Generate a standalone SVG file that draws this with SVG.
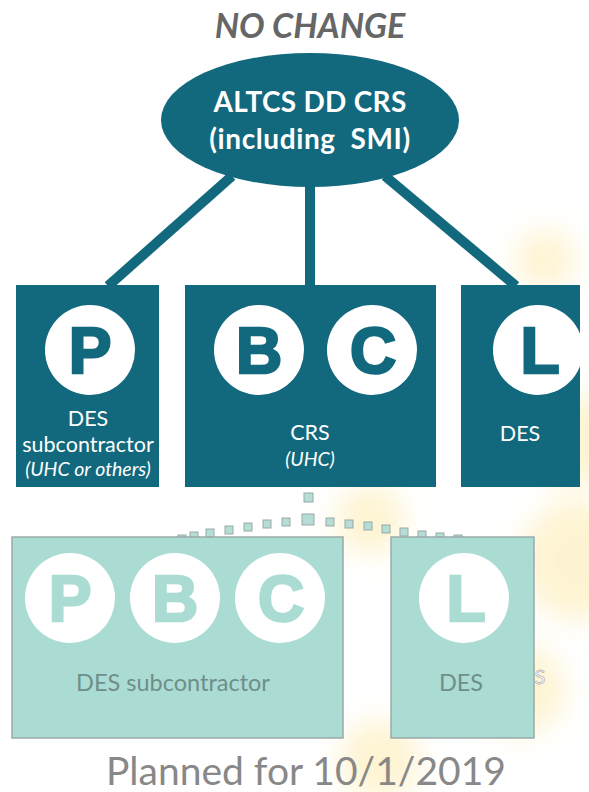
<svg xmlns="http://www.w3.org/2000/svg" width="589" height="792" viewBox="0 0 589 792">
<defs>
<filter id="blur" x="-50%" y="-50%" width="200%" height="200%"><feGaussianBlur stdDeviation="14"/></filter>
<style>
.teal{fill:#12697e}
.conn{stroke:#12697e;stroke-width:10;fill:none}
.circ{fill:#ffffff}
.let{font-family:"Liberation Sans",Arial,sans-serif;font-weight:bold;font-size:64px;fill:#12697e;stroke:#12697e;stroke-width:2.5;text-anchor:middle}
.lbl{font-family:Lato,"Open Sans",sans-serif;font-size:21.5px;fill:#ffffff;text-anchor:middle}
.ital{font-family:Lato,"Open Sans",sans-serif;font-style:italic;font-size:19.5px;fill:#ffffff;text-anchor:middle}
.fbox{fill:#aadcd3;stroke:#9aaaa8;stroke-width:1.5}
.flet{font-family:"Liberation Sans",Arial,sans-serif;font-weight:bold;font-size:64px;fill:#aadcd3;stroke:#aadcd3;stroke-width:2.5;text-anchor:middle}
.flbl{font-family:Lato,"Open Sans",sans-serif;font-size:23.5px;fill:#6f8e8a;text-anchor:middle}
.dot{fill:#b5ddd6;stroke:#9aa9a7;stroke-width:1}
.blob{fill:#fde9a6;opacity:0.5;filter:url(#blur)}
</style>
</defs>
<rect width="589" height="792" fill="#ffffff"/>
<g id="background">
<circle class="blob" cx="580" cy="560" r="60"/>
<circle class="blob" cx="575" cy="440" r="45"/>
<circle class="blob" cx="545" cy="260" r="30"/>
<circle class="blob" cx="520" cy="690" r="45"/>
<circle class="blob" cx="370" cy="520" r="35"/>
<circle class="blob" cx="380" cy="760" r="40"/>
</g>
<text x="310" y="38" font-family="Lato,'Open Sans',sans-serif" font-weight="bold" font-style="italic" font-size="34" fill="#666666" text-anchor="middle">NO CHANGE</text>
<g id="connectors">
<line class="conn" x1="232" y1="176" x2="108" y2="286"/>
<line class="conn" x1="310" y1="185" x2="310" y2="286"/>
<line class="conn" x1="385" y1="176" x2="516" y2="286"/>
</g>
<g id="root">
<ellipse class="teal" cx="310" cy="120" rx="149" ry="67"/>
<text x="310" y="112" font-family="Lato,'Open Sans',sans-serif" font-weight="bold" font-size="28" fill="#ffffff" text-anchor="middle" letter-spacing="0.3">ALTCS DD CRS</text>
<text x="310" y="149" font-family="Lato,'Open Sans',sans-serif" font-weight="bold" font-size="28" fill="#ffffff" text-anchor="middle" letter-spacing="0.6" xml:space="preserve">(including  SMI)</text>
</g>
<g id="node-p">
<rect class="teal" x="16" y="285" width="143" height="202"/>
<circle class="circ" cx="90" cy="350" r="45"/>
<text class="let" x="90" y="373">P</text>
<text class="lbl" x="88" y="426">DES</text>
<text class="lbl" x="88" y="452">subcontractor</text>
<text class="ital" x="88" y="476">(UHC or others)</text>
</g>
<g id="node-crs">
<rect class="teal" x="185" y="285" width="251" height="202"/>
<circle class="circ" cx="259" cy="350" r="45"/>
<text class="let" x="259" y="373">B</text>
<circle class="circ" cx="372" cy="350" r="45"/>
<text class="let" x="373" y="373">C</text>
<text class="lbl" x="310" y="440">CRS</text>
<text class="ital" x="310" y="466">(UHC)</text>
</g>
<g id="node-des">
<rect class="teal" x="461" y="285" width="119" height="202"/>
<circle class="circ" cx="538" cy="350" r="45"/>
<text class="let" x="540" y="373">L</text>
<text class="lbl" x="520" y="441">DES</text>
</g>
<g id="planned-connector">
<rect class="dot" x="304" y="493" width="9" height="9"/>
<rect class="dot" x="178" y="535" width="8" height="6"/>
<rect class="dot" x="190" y="532" width="8" height="8"/>
<rect class="dot" x="206" y="529" width="8" height="8"/>
<rect class="dot" x="225" y="526" width="8" height="8"/>
<rect class="dot" x="244" y="523" width="8" height="8"/>
<rect class="dot" x="263" y="520" width="8" height="8"/>
<rect class="dot" x="282" y="518" width="8" height="8"/>
<rect class="dot" x="302" y="514" width="12" height="11"/>
<rect class="dot" x="326" y="518" width="8" height="8"/>
<rect class="dot" x="345" y="520" width="8" height="8"/>
<rect class="dot" x="364" y="522" width="8" height="8"/>
<rect class="dot" x="382" y="525" width="8" height="8"/>
<rect class="dot" x="400" y="528" width="8" height="8"/>
<rect class="dot" x="418" y="531" width="8" height="8"/>
<rect class="dot" x="436" y="533" width="8" height="7"/>
<rect class="dot" x="454" y="535" width="8" height="6"/>
</g>
<g id="planned-des-sub">
<rect class="fbox" x="12" y="537" width="331" height="201"/>
<circle class="circ" cx="70" cy="598" r="45"/>
<text class="flet" x="70" y="621">P</text>
<circle class="circ" cx="175" cy="598" r="45"/>
<text class="flet" x="175" y="621">B</text>
<circle class="circ" cx="280" cy="598" r="45"/>
<text class="flet" x="281" y="621">C</text>
<text class="flbl" x="173" y="691">DES subcontractor</text>
</g>
<g id="planned-des">
<rect class="fbox" x="391" y="537" width="143" height="201"/>
<circle class="circ" cx="464" cy="598" r="45"/>
<text class="flet" x="466" y="621">L</text>
<text class="flbl" x="461" y="691">DES</text>
</g>
<text x="540" y="684" font-family="Lato,'Open Sans',sans-serif" font-size="20" fill="#ffffff" stroke="#b8b8b8" stroke-width="0.8" text-anchor="middle">S</text>
<text x="306" y="785" font-family="Lato,'Open Sans',sans-serif" font-size="39" fill="#888888" text-anchor="middle">Planned for 10/1/2019</text>
</svg>
